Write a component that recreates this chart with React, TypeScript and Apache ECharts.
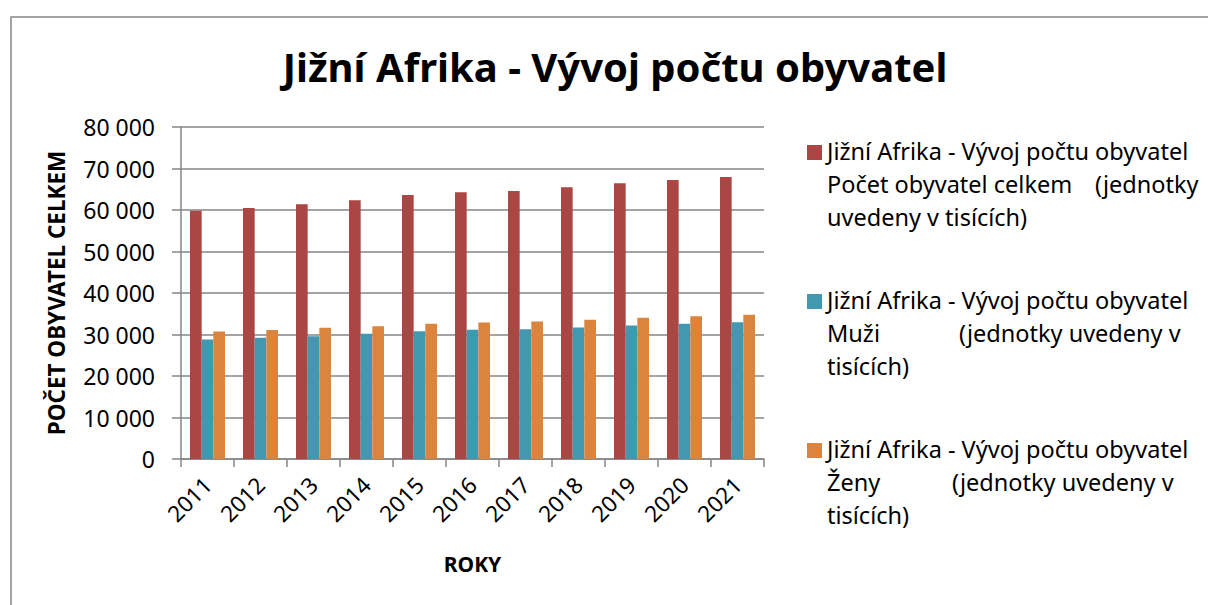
import React, { useEffect, useRef } from "react";
import * as echarts from "echarts";

const years = ["2011", "2012", "2013", "2014", "2015", "2016", "2017", "2018", "2019", "2020", "2021"];
const totalValues = [59800, 60500, 61400, 62350, 63600, 64270, 64590, 65470, 66430, 67230, 67950];
const menValues = [28800, 29200, 29600, 30200, 30800, 31140, 31290, 31690, 32170, 32580, 32970];
const womenValues = [30700, 31100, 31600, 32000, 32580, 32900, 33130, 33540, 34020, 34410, 34740];

const seriesNames = ["Počet obyvatel celkem", "Muži", "Ženy"];
const titleText = "Jižní Afrika - Vývoj počtu obyvatel";
const yAxisTitle = "POČET OBYVATEL CELKEM";
const xAxisTitle = "ROKY";

const colors = ["#AA4643", "#4198AF", "#DB843D"];
const FONT = "'Noto Sans', 'DejaVu Sans', sans-serif";

const legendRich: Record<string, string> = {
  "Počet obyvatel celkem": "Jižní Afrika - Vývoj počtu obyvatel\n{c0|Počet obyvatel celkem}{t|(jednotky}\n{t|uvedeny v tisících)}",
  "Muži": "Jižní Afrika - Vývoj počtu obyvatel\n{c1|Muži}{t|(jednotky uvedeny v}\n{t|tisících)}",
  "Ženy": "Jižní Afrika - Vývoj počtu obyvatel\n{c2|Ženy}{t|(jednotky uvedeny v}\n{t|tisících)}",
};

export default function App() {
  const ref = useRef<HTMLDivElement>(null);
  useEffect(() => {
    if (!ref.current) return;
    const chart = echarts.init(ref.current, undefined, { renderer: "svg" });
    const fmt = (v: number) => String(v).replace(/\B(?=(\d{3})+(?!\d))/g, " ");
    const base = { fontFamily: FONT, fontSize: 23.5, color: "#000", lineHeight: 33 };
    chart.setOption({
      animation: false,
      backgroundColor: "#fff",
      textStyle: { fontFamily: FONT },
      title: {
        text: titleText,
        left: 610,
        top: 41,
        textAlign: "center",
        textStyle: { fontFamily: FONT, fontSize: 40, fontWeight: "bold", color: "#000" },
      },
      legend: {
        orient: "vertical",
        left: 807,
        top: 134,
        padding: 0,
        itemGap: 50,
        itemWidth: 15,
        itemHeight: 99,
        icon: "path://M0,0L0.01,0M0,11L15,11L15,26L0,26ZM0,99L0.01,99",
        data: seriesNames,
        formatter: (name: string) => legendRich[name],
        textStyle: {
          ...base,
          rich: {
            t: { ...base },
            c0: { ...base, width: 268 },
            c1: { ...base, width: 132 },
            c2: { ...base, width: 125 },
          },
        },
      },
      grid: { left: 181, right: 444, top: 127, bottom: 146, containLabel: false },
      xAxis: {
        type: "category",
        data: years,
        name: xAxisTitle,
        nameLocation: "middle",
        nameGap: 94,
        nameTextStyle: { fontFamily: FONT, fontSize: 21, fontWeight: "bold", color: "#000" },
        axisLine: { lineStyle: { color: "#868686", width: 1.5 } },
        axisTick: { show: true, length: 8, lineStyle: { color: "#868686", width: 1.5 } },
        axisLabel: { rotate: 45, margin: 22, fontFamily: FONT, fontSize: 22.5, color: "#000" },
      },
      yAxis: {
        type: "value",
        min: 0,
        max: 80000,
        interval: 10000,
        name: yAxisTitle,
        nameLocation: "middle",
        nameGap: 113,
        nameTextStyle: { fontFamily: FONT, fontSize: 22.5, fontWeight: "bold", color: "#000" },
        axisLine: { show: true, lineStyle: { color: "#868686", width: 1.5 } },
        axisTick: { show: true, length: 9, lineStyle: { color: "#868686", width: 1.5 } },
        axisLabel: { margin: 26, fontFamily: FONT, fontSize: 23, color: "#000", formatter: fmt },
        splitLine: { show: true, lineStyle: { color: "#868686", width: 1.5 } },
      },
      series: [
        { name: seriesNames[0], type: "bar", data: totalValues, barGap: "0%", barCategoryGap: "34%", itemStyle: { color: colors[0] } },
        { name: seriesNames[1], type: "bar", data: menValues, barGap: "0%", barCategoryGap: "34%", itemStyle: { color: colors[1] } },
        { name: seriesNames[2], type: "bar", data: womenValues, barGap: "0%", barCategoryGap: "34%", itemStyle: { color: colors[2] } },
      ],
      graphic: [
        {
          type: "rect",
          left: 8.5,
          top: 14.5,
          shape: { width: 1220, height: 620 },
          style: { fill: "none", stroke: "#868686", lineWidth: 1.5 },
          silent: true,
        },
      ],
    });
    return () => chart.dispose();
  }, []);
  return <div ref={ref} style={{ position: "fixed", left: 0, top: 0, width: 1208, height: 605 }} />;
}
